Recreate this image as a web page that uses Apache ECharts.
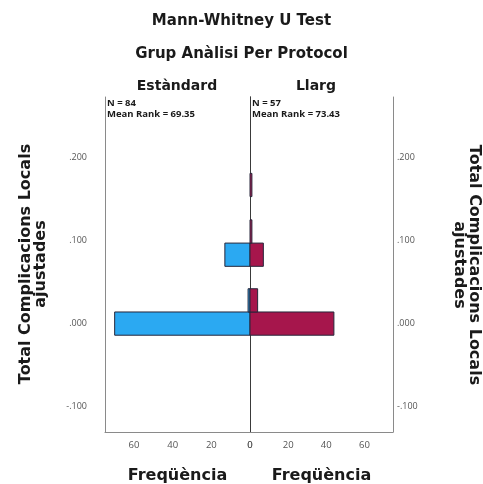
<!DOCTYPE html>
<html>
<head>
<meta charset="utf-8">
<script src="https://cdn.jsdelivr.net/npm/echarts@6/dist/echarts.min.js"></script>
<style>
  html, body { margin: 0; padding: 0; background: #ffffff; }
  #chart { width: 483px; height: 484px; }
</style>
</head>
<body>
<div id="chart"></div>
<script>
// Histogram bins of "Total Complicacions Locals ajustades" (bin centres)
const binCenters = [0.000, 0.028, 0.083, 0.111, 0.167];
const binWidth = 0.028;
// Frequencies per group
const estandardFreq = [70, 1, 13, 0, 0];
const llargFreq = [44, 4, 7, 1, 1];
// Group labels and summary statistics
const groupNames = ['Estàndard', 'Llarg'];
const groupN = [84, 57];
const groupMeanRank = [69.35, 73.43];
// Axis ticks
const yTicks = [-0.1, 0, 0.1, 0.2];
const xTicks = [0, 20, 40, 60];

const FONT = '"Open Sans", "DejaVu Sans", sans-serif';
const HEAD = '"DejaVu Sans", sans-serif';
const BLUE = '#2ba9f2';
const RED = '#a6164c';

function fmtY(v) {
  let s = Math.abs(v).toFixed(3).replace(/^0/, '');
  return (v < -1e-9 ? '-' : '') + s;
}

function binData(freq) {
  return freq.map((f, i) => [f, binCenters[i]]).filter(d => d[0] > 0);
}

function renderBar(color) {
  return function (params, api) {
    const count = api.value(0);
    const c = api.value(1);
    const p0 = api.coord([0, c - binWidth / 2]);
    const p1 = api.coord([count, c + binWidth / 2]);
    const x = Math.min(p0[0], p1[0]);
    const y = Math.min(p0[1], p1[1]);
    return {
      type: 'rect',
      shape: { x: x, y: y, width: Math.abs(p1[0] - p0[0]), height: Math.abs(p1[1] - p0[1]) },
      style: { fill: color, stroke: '#26263a', lineWidth: 1 }
    };
  };
}

const yBase = {
  type: 'value',
  min: -0.1306,
  max: 0.273,
  splitLine: { show: false },
  axisTick: { show: false }
};

const xBase = {
  type: 'value',
  min: 0,
  max: 75,
  splitLine: { show: false },
  axisTick: { show: false },
  axisLine: { onZero: false, lineStyle: { color: '#8a8a8a', width: 1 } },
  axisLabel: {
    customValues: xTicks,
    color: '#555',
    fontSize: 9.5,
    fontFamily: FONT,
    margin: 8
  },
  name: 'Freqüència',
  nameLocation: 'middle',
  nameGap: 36,
  nameTextStyle: { fontSize: 16, fontWeight: 'bold', color: '#1a1a1a', fontFamily: HEAD }
};

const option = {
  animation: false,
  backgroundColor: '#ffffff',
  grid: [
    { left: 105, top: 97, width: 145, height: 335, outerBoundsMode: 'none', containLabel: false },
    { left: 250, top: 97, width: 143, height: 335, outerBoundsMode: 'none', containLabel: false }
  ],
  xAxis: [
    Object.assign({}, xBase, { gridIndex: 0, inverse: true }),
    Object.assign({}, xBase, { gridIndex: 1 })
  ],
  yAxis: [
    Object.assign({}, yBase, {
      gridIndex: 0, position: 'left',
      axisLine: { show: true, onZero: false, lineStyle: { color: '#8a8a8a', width: 1 } },
      axisLabel: { customValues: yTicks, formatter: fmtY, color: '#555', fontSize: 9, fontFamily: FONT, margin: 18 }
    }),
    Object.assign({}, yBase, {
      gridIndex: 0, position: 'right',
      axisLine: { show: true, onZero: false, lineStyle: { color: '#3a3a3a', width: 1 } },
      axisLabel: { show: false }
    }),
    Object.assign({}, yBase, {
      gridIndex: 1, position: 'right',
      axisLine: { show: true, onZero: false, lineStyle: { color: '#8a8a8a', width: 1 } },
      axisLabel: { customValues: yTicks, formatter: fmtY, color: '#555', fontSize: 9, fontFamily: FONT, margin: 4 }
    }),
    Object.assign({}, yBase, {
      gridIndex: 1, position: 'left',
      axisLine: { show: true, onZero: false, lineStyle: { color: '#3a3a3a', width: 1 } },
      axisLabel: { show: false }
    })
  ],
  title: [
    { text: 'Mann-Whitney U Test', left: 'center', top: 9,
      textStyle: { fontSize: 15, fontWeight: 'bold', color: '#1a1a1a', fontFamily: HEAD } },
    { text: 'Grup Anàlisi Per Protocol', left: 'center', top: 42,
      textStyle: { fontSize: 15, fontWeight: 'bold', color: '#1a1a1a', fontFamily: HEAD } }
  ],
  graphic: [
    { type: 'text', x: 177, y: 86, style: { text: groupNames[0], align: 'center', verticalAlign: 'middle',
      font: 'bold 14px ' + HEAD, fill: '#1a1a1a' } },
    { type: 'text', x: 316, y: 86, style: { text: groupNames[1], align: 'center', verticalAlign: 'middle',
      font: 'bold 14px ' + HEAD, fill: '#1a1a1a' } },
    { type: 'text', x: 107, y: 98, style: { text: 'N = ' + groupN[0] + '\nMean Rank = ' + groupMeanRank[0].toFixed(2),
      font: 'bold 9.5px ' + FONT, fill: '#1a1a1a', lineHeight: 11 } },
    { type: 'text', x: 252, y: 98, style: { text: 'N = ' + groupN[1] + '\nMean Rank = ' + groupMeanRank[1].toFixed(2),
      font: 'bold 9.5px ' + FONT, fill: '#1a1a1a', lineHeight: 11 } },
    { type: 'text', x: 33, y: 264, rotation: Math.PI / 2,
      style: { text: 'Total Complicacions Locals\najustades', align: 'center', verticalAlign: 'middle',
        font: 'bold 16px ' + HEAD, fill: '#1a1a1a', lineHeight: 15 } },
    { type: 'text', x: 467, y: 265, rotation: -Math.PI / 2,
      style: { text: 'Total Complicacions Locals\najustades', align: 'center', verticalAlign: 'middle',
        font: 'bold 16px ' + HEAD, fill: '#1a1a1a', lineHeight: 15 } }
  ],
  series: [
    { type: 'custom', name: groupNames[0], xAxisIndex: 0, yAxisIndex: 0,
      renderItem: renderBar(BLUE), encode: { x: 0, y: 1 }, data: binData(estandardFreq), z: 1 },
    { type: 'custom', name: groupNames[1], xAxisIndex: 1, yAxisIndex: 2,
      renderItem: renderBar(RED), encode: { x: 0, y: 1 }, data: binData(llargFreq), z: 1 }
  ]
};

const chart = echarts.init(document.getElementById('chart'), null, { renderer: 'canvas' });
chart.setOption(option);
</script>
</body>
</html>
